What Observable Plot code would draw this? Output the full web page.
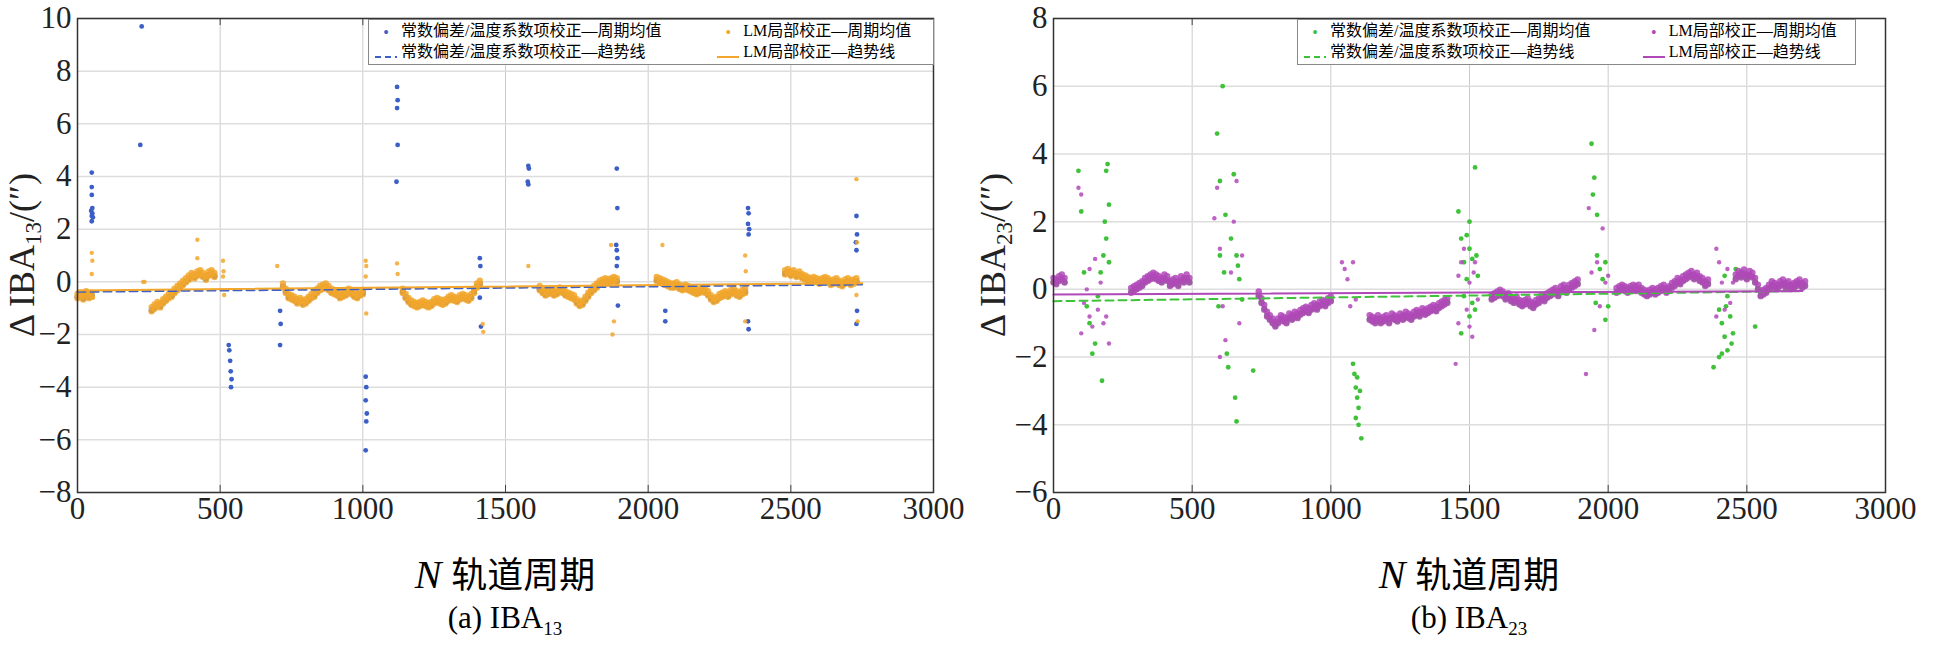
<!DOCTYPE html>
<html><head><meta charset="utf-8">
<script src="https://cdn.jsdelivr.net/npm/d3@7"></script>
<script src="https://cdn.jsdelivr.net/npm/@observablehq/plot@0.6"></script>
<style>
body{margin:0;background:#fff;font-family:"Liberation Serif",serif;}
#wrap{display:flex;width:1938px;}
.panel{position:relative;width:969px;}
.xl{text-align:center;font-size:40px;height:56px;line-height:56px;margin-top:4px;}
.cap{text-align:center;font-size:31px;margin-top:0px;line-height:36px;}
.leg{position:absolute;top:19px;background:#fff;border:1px solid #888;font-size:16px;display:grid;grid-template-columns:auto auto;column-gap:40px;padding:1px 6px;line-height:19px;}
.leg span{white-space:nowrap;font-family:"Liberation Serif","Noto Sans CJK SC",serif;}
.sw{display:inline-block;width:22px;text-align:center;margin-right:4px;vertical-align:middle}
</style></head><body><div id="wrap"></div>
<script>
// ---- Panel (a) IBA13 ----
const aBandStarts=[0,260,720,1140,1620,2030,2480];
const aBandStep=10;
const aBandY=[
[-0.5,-0.45,-0.55,-0.4,-0.5,-0.45],
[-1.0,-0.9,-0.8,-0.85,-0.7,-0.6,-0.5,-0.45,-0.3,-0.2,-0.1,0.0,0.1,0.2,0.3,0.25,0.35,0.4,0.3,0.2,0.35,0.4,0.3],
[-0.1,-0.3,-0.5,-0.55,-0.6,-0.7,-0.65,-0.75,-0.7,-0.6,-0.5,-0.45,-0.3,-0.2,-0.15,-0.1,-0.2,-0.3,-0.35,-0.4,-0.5,-0.45,-0.4,-0.3,-0.35,-0.45,-0.5,-0.4,-0.35],
[-0.3,-0.5,-0.65,-0.75,-0.8,-0.85,-0.8,-0.75,-0.8,-0.85,-0.8,-0.7,-0.65,-0.7,-0.75,-0.7,-0.6,-0.55,-0.6,-0.65,-0.55,-0.5,-0.55,-0.6,-0.5,-0.3,-0.1,0.0],
[-0.2,-0.3,-0.4,-0.35,-0.3,-0.4,-0.35,-0.25,-0.3,-0.4,-0.45,-0.5,-0.55,-0.7,-0.8,-0.75,-0.6,-0.45,-0.3,-0.2,-0.1,0.0,0.05,0.1,0.05,0.1,0.15,0.1],
[0.15,0.1,0.05,0.0,-0.05,-0.1,-0.1,-0.05,-0.15,-0.2,-0.15,-0.2,-0.25,-0.3,-0.35,-0.3,-0.25,-0.3,-0.4,-0.55,-0.65,-0.6,-0.5,-0.45,-0.4,-0.45,-0.35,-0.3,-0.4,-0.45,-0.35,-0.3],
[0.4,0.45,0.35,0.4,0.3,0.35,0.25,0.2,0.15,0.1,0.15,0.1,0.05,0.1,0.15,0.1,0.0,0.05,0.1,0.0,-0.05,0.05,0.1,0.0,0.05,0.1]];
const aBlueOut=[[50,2.3],[50,2.5],[52,2.6],[48,2.7],[52,2.8],[50,3.3],[50,3.6],[50,4.15],[54,2.45],[225,9.7],[220,5.2],
[530,-2.4],[532,-2.6],[535,-3.0],[537,-3.4],[540,-3.7],[538,-4.0],[710,-1.1],[712,-1.6],[710,-2.4],
[1010,-3.6],[1012,-4.0],[1010,-4.5],[1014,-5.0],[1012,-5.3],[1010,-6.4],[1120,7.4],[1122,6.9],[1120,6.6],[1122,5.2],[1118,3.8],
[1410,0.9],[1412,0.6],[1410,-0.6],[1414,-1.7],[1580,4.4],[1582,4.3],[1578,3.8],[1580,3.7],
[1890,4.3],[1892,2.8],[1888,1.4],[1890,1.2],[1892,0.9],[1890,0.6],[1894,-0.9],[2060,-1.1],[2060,-1.5],
[2350,2.8],[2352,2.6],[2350,2.2],[2354,2.0],[2352,1.8],[2350,-1.5],[2352,-1.8],[2730,2.5],[2732,1.8],[2728,1.5],[2730,1.2],[2732,-1.1],[2730,-1.6]];
const aOrangeOut=[[50,1.1],[52,0.8],[50,0.3],[54,-0.6],[230,0.0],[235,0.0],[420,1.6],[420,0.9],[510,0.8],[512,0.4],[510,0.2],[514,-0.5],
[700,0.6],[1010,0.8],[1012,0.6],[1010,0.2],[1012,-1.2],[1120,0.7],[1122,0.3],[1420,-1.6],[1422,-1.9],[1580,0.6],
[1870,1.4],[1880,-1.5],[1875,-2.0],[2050,1.4],[2340,1.0],[2342,0.4],[2340,-1.5],[2730,3.9],[2732,1.5],[2730,-0.5],[2734,-1.5]];
const aBlueTrend=[[0,-0.38],[2750,-0.1]];
const aOrangeTrend=[[0,-0.33],[2750,-0.05]];

// ---- Panel (b) IBA23 ----
const bBandStarts=[0,280,740,1140,1580,2030,2460];
const bBandStep=10;
const bBandY=[
[0.3,0.25,0.35,0.4,0.3],
[0.0,0.05,0.1,0.15,0.2,0.3,0.35,0.4,0.45,0.4,0.35,0.3,0.4,0.35,0.2,0.25,0.3,0.2,0.35,0.3,0.4,0.3],
[-0.1,-0.3,-0.5,-0.7,-0.8,-0.9,-1.0,-0.9,-0.8,-0.85,-0.9,-0.75,-0.8,-0.7,-0.75,-0.65,-0.6,-0.55,-0.6,-0.5,-0.45,-0.5,-0.4,-0.35,-0.4,-0.3,-0.25],
[-0.8,-0.85,-0.9,-0.8,-0.9,-0.85,-0.8,-0.9,-0.75,-0.8,-0.85,-0.75,-0.8,-0.7,-0.75,-0.8,-0.7,-0.65,-0.7,-0.6,-0.65,-0.6,-0.55,-0.5,-0.55,-0.45,-0.4,-0.35,-0.3],
[-0.2,-0.15,-0.1,-0.05,-0.1,-0.2,-0.15,-0.25,-0.3,-0.25,-0.35,-0.4,-0.35,-0.3,-0.4,-0.45,-0.35,-0.3,-0.2,-0.25,-0.15,-0.1,-0.05,0.0,-0.1,0.05,0.1,0.0,0.1,0.15,0.2,0.25],
[0.0,0.05,0.1,0.05,0.0,0.05,0.1,0.05,0.1,0.0,-0.05,-0.1,-0.05,0.0,-0.05,0.0,0.05,0.1,0.0,0.05,0.15,0.2,0.3,0.25,0.35,0.4,0.45,0.5,0.4,0.45,0.35,0.3,0.2,0.25],
[0.4,0.5,0.45,0.55,0.4,0.5,0.45,0.3,0.1,-0.1,-0.05,0.0,0.1,0.2,0.15,0.1,0.2,0.25,0.15,0.2,0.1,0.15,0.2,0.25,0.15,0.2]];
const bGreenOut=[[90,3.5],[100,2.3],[110,0.5],[120,-0.5],[130,-1.0],[140,-1.9],[150,-1.6],[170,0.5],[180,1.0],[185,2.0],[190,3.5],[195,3.7],[200,2.5],[190,1.5],[175,-2.7],[200,0.8],[160,-0.2],
[590,4.6],[600,3.2],[610,6.0],[620,2.2],[600,1.0],[615,0.5],[625,-1.9],[630,-2.3],[640,1.5],[650,3.4],[655,-3.2],[660,-3.9],[665,0.7],[670,0.3],[680,-0.3],[660,1.0],[595,-0.5],[720,-2.4],
[1080,-2.2],[1085,-2.5],[1090,-2.9],[1095,-3.2],[1100,-3.5],[1090,-3.8],[1100,-4.0],[1110,-4.4],[1105,-3.0],[1095,-2.6],
[1460,2.3],[1470,1.5],[1480,0.8],[1490,0.3],[1500,1.2],[1510,-0.4],[1520,3.6],[1525,1.0],[1500,-0.8],[1490,1.6],[1530,0.4],[1480,-0.2],[1510,0.9],[1500,2.0],[1470,-1.3],[1520,-0.6],
[1940,4.3],[1950,3.3],[1945,2.8],[1960,1.0],[1970,0.6],[1980,0.3],[1990,0.8],[2000,-0.5],[1955,-0.4],[1990,-0.9],[1960,2.2],
[2380,-2.3],[2400,-0.6],[2410,-1.0],[2420,-1.4],[2430,-1.8],[2440,-0.8],[2450,-1.3],[2400,-2.0],[2420,0.4],[2430,-0.2],[2445,-1.6],[2460,0.6],[2410,-1.9],[2425,-0.5],[2530,-1.1]];
const bPurpleOut=[[90,3.0],[100,2.8],[110,-0.4],[120,0.0],[130,-0.8],[140,-1.1],[150,0.9],[160,-0.6],[170,0.2],[180,-1.0],[190,-0.8],[200,-1.6],[100,-1.3],[130,0.6],
[580,2.1],[590,3.0],[600,1.2],[610,-0.5],[620,-1.5],[640,0.5],[650,2.0],[660,3.2],[670,-1.0],[680,1.0],[600,-2.0],
[1040,0.8],[1050,0.6],[1060,0.3],[1070,-0.5],[1080,0.8],[1090,-0.3],
[1450,-2.2],[1460,-1.0],[1470,0.8],[1480,1.2],[1490,-0.6],[1500,0.2],[1510,-1.4],[1520,0.8],[1530,-0.3],[1460,0.4],[1500,-1.1],[1515,0.5],
[1920,-2.5],[1930,2.4],[1940,0.5],[1950,-1.2],[1960,0.8],[1970,-0.5],[1980,1.8],[1990,0.2],[2000,0.4],
[2390,1.2],[2400,0.8],[2410,0.2],[2420,-0.6],[2430,0.6],[2440,-0.4],[2450,0.2],[2390,-0.8]];
const bGreenTrend=[[0,-0.35],[2700,-0.05]];
const bPurpleTrend=[[0,-0.15],[2700,-0.05]];

const xTicks=[0,500,1000,1500,2000,2500,3000];

function band(starts,step,ys,dy){
  const out=[];
  starts.forEach((s,i)=>ys[i].forEach((v,j)=>out.push([s+j*step,v+dy])));
  return out;
}

function panel(cfg){
  const div=document.createElement("div");div.className="panel";
  const yTicks=d3.range(cfg.yDomain[0],cfg.yDomain[1]+0.001,2);
  const tl=(cfg.yDomain[1]-cfg.yDomain[0])*0.015;
  const p=Plot.plot({
    width:969,height:540,marginLeft:cfg.ml,marginRight:cfg.mr,marginTop:18,marginBottom:48,
    style:{fontFamily:"Liberation Serif",fontSize:"31px",color:"#222",background:"#fff"},
    x:{domain:[0,3000],ticks:xTicks,tickSize:0,tickPadding:4,tickFormat:"d",label:null},
    y:{domain:cfg.yDomain,ticks:yTicks,tickSize:0,tickPadding:6,label:null},
    marks:[
      Plot.gridX(xTicks,{stroke:"#ccc",strokeOpacity:1}),
      Plot.gridY(yTicks,{stroke:"#ddd",strokeOpacity:1,strokeWidth:1.5}),
      Plot.ruleX(xTicks,{y1:cfg.yDomain[0],y2:cfg.yDomain[0]+tl,stroke:"#444"}),
      Plot.ruleX(xTicks,{y1:cfg.yDomain[1],y2:cfg.yDomain[1]-tl,stroke:"#444"}),
      Plot.dot(cfg.c1Band,{x:d=>d[0],y:d=>d[1],r:3,fill:cfg.c1,stroke:"none"}),
      Plot.dot(cfg.c1Out,{x:d=>d[0],y:d=>d[1],r:2.4,fill:cfg.c1,stroke:"none"}),
      Plot.dot(cfg.c2Band,{x:d=>d[0],y:d=>d[1],r:3.2,fill:cfg.c2,fillOpacity:0.85,stroke:"none"}),
      Plot.dot(cfg.c2Band2,{x:d=>d[0],y:d=>d[1],r:3.2,fill:cfg.c2,fillOpacity:0.85,stroke:"none"}),
      Plot.dot(cfg.c2Out,{x:d=>d[0],y:d=>d[1],r:2.2,fill:cfg.c2,fillOpacity:0.85,stroke:"none"}),
      Plot.line(cfg.t1,{x:d=>d[0],y:d=>d[1],stroke:cfg.c1,strokeWidth:2,strokeDasharray:"8,5"}),
      Plot.line(cfg.t2,{x:d=>d[0],y:d=>d[1],stroke:cfg.c2,strokeWidth:2}),
      Plot.frame({stroke:"#333",strokeWidth:1.5})
    ]});
  const svg=d3.select(p);
  const t=svg.append("text").attr("transform",`translate(${cfg.ylx},255) rotate(-90)`)
    .attr("text-anchor","middle").attr("font-family","Liberation Serif").attr("font-size",36).attr("fill","#222");
  t.append("tspan").text("Δ IBA");
  t.append("tspan").attr("font-size",23).attr("dy",7).text(cfg.sub);
  t.append("tspan").attr("dy",-7).text("/(″)");
  div.appendChild(p);
  const leg=document.createElement("div");leg.className="leg";leg.style.left=cfg.legLeft+"px";leg.style.width=cfg.legW+"px";
  leg.innerHTML=`<span><span class="sw" style="color:${cfg.c1}">•</span>常数偏差/温度系数项校正—周期均值</span>
<span><span class="sw" style="color:${cfg.c2}">•</span>LM局部校正—周期均值</span>
<span><span class="sw"><svg width="22" height="4"><line x1="0" y1="2" x2="22" y2="2" stroke="${cfg.c1}" stroke-width="2" stroke-dasharray="6,4"/></svg></span>常数偏差/温度系数项校正—趋势线</span>
<span><span class="sw"><svg width="22" height="4"><line x1="0" y1="2" x2="22" y2="2" stroke="${cfg.c2}" stroke-width="2"/></svg></span>LM局部校正—趋势线</span>`;
  div.appendChild(leg);
  const xl=document.createElement("div");xl.className="xl";xl.style.paddingLeft=(cfg.ml-cfg.mr)+"px";
  xl.innerHTML=`<i>N</i> <span style="font-family:'Noto Sans CJK SC';font-size:36px">轨道周期</span>`;
  div.appendChild(xl);
  const cap=document.createElement("div");cap.className="cap";cap.style.paddingLeft=(cfg.ml-cfg.mr)+"px";
  cap.innerHTML=`${cfg.cap} IBA<sub style="font-size:19px;line-height:0">${cfg.sub}</sub>`;
  div.appendChild(cap);
  document.getElementById("wrap").appendChild(div);
}

panel({ml:77,mr:36,yDomain:[-8,10],ylx:34,sub:"13",cap:"(a)",c1:"#3b5fc6",c2:"#f2a72c",
  c1Band:band(aBandStarts,aBandStep,aBandY,-0.08),c1Out:aBlueOut,c2Band:band(aBandStarts,aBandStep,aBandY,0.04),c2Band2:band(aBandStarts,aBandStep,aBandY,-0.12),c2Out:aOrangeOut,
  t1:aBlueTrend,t2:aOrangeTrend,legLeft:368,legW:552});
panel({ml:84,mr:53,yDomain:[-6,8],ylx:36,sub:"23",cap:"(b)",c1:"#3fc23a",c2:"#b048b8",
  c1Band:band(bBandStarts,bBandStep,bBandY,-0.08),c1Out:bGreenOut,c2Band:band(bBandStarts,bBandStep,bBandY,0.04),c2Band2:band(bBandStarts,bBandStep,bBandY,-0.1),c2Out:bPurpleOut,
  t1:bGreenTrend,t2:bPurpleTrend,legLeft:328,legW:545});
</script></body></html>
